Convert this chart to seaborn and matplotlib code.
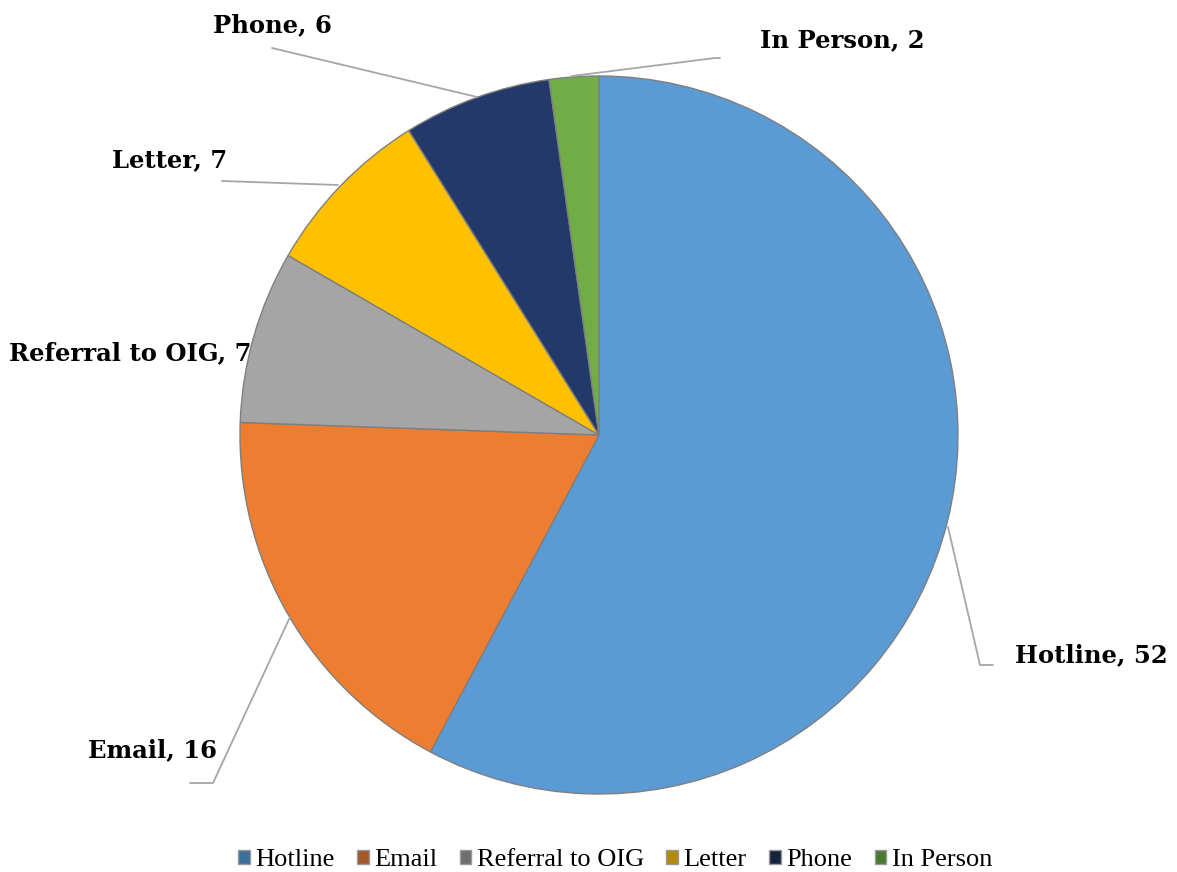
import matplotlib
matplotlib.use("Agg")
import matplotlib.pyplot as plt
from matplotlib.patches import Patch
import seaborn as sns

sources = ["Hotline", "Email", "Referral to OIG", "Letter", "Phone", "In Person"]
counts = [52, 16, 7, 7, 6, 2]
slice_colors = ["#5B9BD5", "#ED7D31", "#A5A5A5", "#FFC000", "#22396A", "#70AD47"]
legend_colors = ["#3E6E9C", "#A5582A", "#6E6E6E", "#B48A0C", "#15233F", "#4A7A30"]

sns.set_theme(style="white")
plt.rcParams["font.family"] = ["DejaVu Serif"]

W, H = 1177, 872
fig = plt.figure(figsize=(W / 100, H / 100), dpi=100)
ax = fig.add_axes([0, 0, 1, 1])

cx, cy, r = 599, H - 435, 359
wedges, _ = ax.pie(counts, colors=slice_colors, startangle=90, counterclock=False,
                   center=(cx, cy), radius=r, frame=True,
                   wedgeprops=dict(edgecolor="#7F7F7F", linewidth=1.0))
ax.set_xlim(0, W)
ax.set_ylim(0, H)
ax.set_aspect("equal")
ax.axis("off")

# label centres (pixels from top) and leader lines
label_pos = {
    "Hotline": (1091, 655),
    "Email": (153, 750),
    "Referral to OIG": (130, 353),
    "Letter": (170, 160),
    "Phone": (272, 25),
    "In Person": (842, 40),
}
leaders = {
    "Hotline": [(948, 527), (980, 665), (993, 665)],
    "Email": [(290, 617), (213, 783), (190, 783)],
    "Letter": [(338, 185), (222, 181)],
    "Phone": [(477, 97), (272, 48)],
    "In Person": [(572, 76), (715, 58), (720, 58)],
}
for name, pts in leaders.items():
    xs = [p[0] for p in pts]
    ys = [H - p[1] for p in pts]
    ax.plot(xs, ys, color="#A6A6A6", lw=1.3, zorder=1)

for name, val in zip(sources, counts):
    x, y = label_pos[name]
    ax.text(x, H - y, f"{name}, {val}", ha="center", va="center",
            fontsize=17.5, fontweight="bold", color="black", zorder=5)

handles = [Patch(facecolor=c, edgecolor="#9A9A9A", label=s)
           for s, c in zip(sources, legend_colors)]
fig.legend(handles=handles, loc="center", bbox_to_anchor=(615 / W, 1 - 860 / H),
           ncol=6, frameon=False, handlelength=0.45, handleheight=0.45,
           handletextpad=0.2, columnspacing=0.85, labelcolor="black",
           prop={"family": "Liberation Serif", "size": 19})

fig.savefig("out.png", dpi=100)
